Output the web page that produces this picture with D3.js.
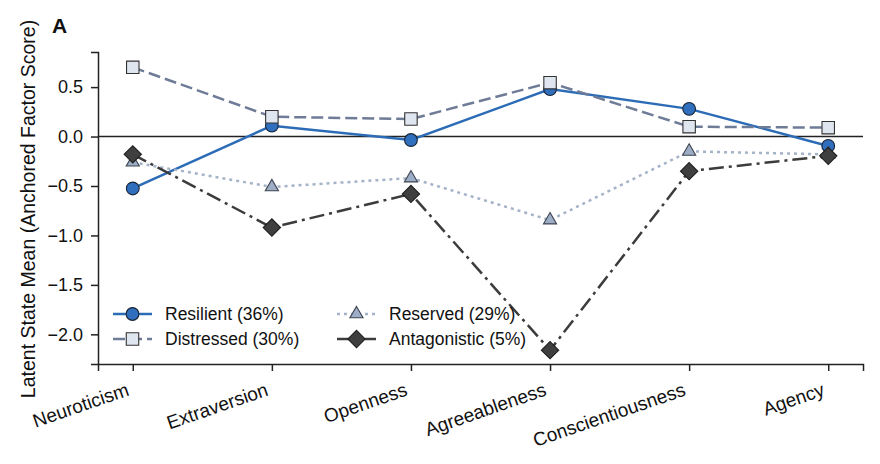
<!DOCTYPE html>
<html>
<head>
<meta charset="utf-8">
<script src="https://cdn.jsdelivr.net/npm/d3@7"></script>
<style>
	body { margin: 0; background: white; }
	svg text { font-family: "Liberation Sans", Arial, sans-serif; }
</style>
</head>
<body>
<div id="plot"></div>
<script>
const traits = ["Neuroticism", "Extraversion", "Openness", "Agreeableness", "Conscientiousness", "Agency"];

const resilient = [-0.525, 0.11, -0.035, 0.48, 0.28, -0.095];
const distressed = [0.70, 0.20, 0.177, 0.545, 0.10, 0.09];
const reserved = [-0.26, -0.51, -0.42, -0.845, -0.15, -0.18];
const antagonistic = [-0.18, -0.92, -0.58, -2.16, -0.35, -0.195];

const seriesNames = ["Resilient (36%)", "Distressed (30%)", "Reserved (29%)", "Antagonistic (5%)"];
const yTicks = [0.5, 0.0, -0.5, -1.0, -1.5, -2.0];

const W = 880, H = 464;
const margin = { top: 52, right: 17, bottom: 100, left: 98 },
	width = W - margin.left - margin.right,
	height = H - margin.top - margin.bottom;

// matplotlib-ish styles: D is a square turned 45 degrees
const styles = [
	{ line: "#2c6cb6", fill: "#2f6fbe", edge: "#1b2333", dash: null, shape: d3.symbolCircle, size: 128, rot: 0 },
	{ line: "#6f7c97", fill: "#dfe6f0", edge: "#333333", dash: "12,5", shape: d3.symbolSquare, size: 155, rot: 0 },
	{ line: "#a5b3c9", fill: "#9dadc6", edge: "#3e4450", dash: "3,4", shape: d3.symbolTriangle, size: 75, rot: 0 },
	{ line: "#3c3c3c", fill: "#3f3f3f", edge: "#1e1e1e", dash: "15,5,3,5", shape: d3.symbolSquare, size: 150, rot: 45 }
];

const series = [resilient, distressed, reserved, antagonistic].map((vals, i) => ({
	name: seriesNames[i],
	values: vals,
	style: styles[i]
}));

const svg = d3.select("#plot")
	.append("svg")
	.attr("width", W)
	.attr("height", H);

const g = svg.append("g")
	.attr("transform", `translate(${margin.left},${margin.top})`);

const x = d3.scaleLinear()
	.domain([-0.25, traits.length - 0.75])
	.range([0, width]);

const y = d3.scaleLinear()
	.domain([-2.3, 0.855])
	.range([height, 0]);

// axes
const xAxis = g.append("g")
	.attr("transform", `translate(0,${height})`)
	.call(d3.axisBottom(x).tickValues(d3.range(traits.length)).tickFormat(i => traits[i]).tickSizeOuter(0).tickSize(7));
xAxis.select(".domain").attr("stroke", "#222").attr("stroke-width", 1.5);
xAxis.selectAll(".tick line").attr("stroke", "#222").attr("stroke-width", 1.5);
xAxis.selectAll("text")
	.attr("font-size", 19)
	.attr("fill", "#111")
	.attr("y", 0)
	.attr("dy", 0)
	.style("text-anchor", "end")
	.attr("transform", "translate(-3,31)rotate(-19)");

const yAxis = g.append("g")
	.call(d3.axisLeft(y).tickValues(yTicks).tickFormat(d => d3.format(".1f")(d).replace("-", "\u2212")).tickSizeOuter(0).tickSize(7).tickPadding(8));
yAxis.select(".domain").attr("stroke", "#222").attr("stroke-width", 1.5);
yAxis.selectAll(".tick line").attr("stroke", "#222").attr("stroke-width", 1.5);
yAxis.selectAll("text").attr("font-size", 18).attr("fill", "#111");

// zero line
g.append("line")
	.attr("x1", 0).attr("x2", width)
	.attr("y1", y(0)).attr("y2", y(0))
	.attr("stroke", "#222")
	.attr("stroke-width", 1.5);

// y label
svg.append("text")
	.attr("transform", `translate(35,${209}) rotate(-90)`)
	.attr("text-anchor", "middle")
	.attr("font-size", 19.5)
	.attr("fill", "#111")
	.text("Latent State Mean (Anchored Factor Score)");

// panel letter
svg.append("text")
	.attr("x", 52).attr("y", 33)
	.attr("font-size", 21)
	.attr("font-weight", "bold")
	.attr("fill", "#111")
	.text("A");

const line = d3.line()
	.x((d, i) => x(i))
	.y(d => y(d));

function marker(sel, st) {
	sel.attr("d", d3.symbol().type(st.shape).size(st.size))
		.attr("fill", st.fill)
		.attr("stroke", st.edge)
		.attr("stroke-width", 1.1);
}

series.forEach(s => {
	g.append("path")
		.datum(s.values)
		.attr("fill", "none")
		.attr("stroke", s.style.line)
		.attr("stroke-width", 2.5)
		.attr("stroke-dasharray", s.style.dash)
		.attr("d", line);

	g.selectAll(null)
		.data(s.values)
		.enter()
		.append("path")
		.attr("transform", (d, i) => `translate(${x(i)},${y(d)}) rotate(${s.style.rot})`)
		.call(marker, s.style);
});

// legend
const legendPos = [
	{ x: 15, y: 262 },
	{ x: 15, y: 287 },
	{ x: 239, y: 262 },
	{ x: 239, y: 287 }
];

series.forEach((s, i) => {
	const lg = g.append("g")
		.attr("transform", `translate(${legendPos[i].x},${legendPos[i].y})`);
	lg.append("line")
		.attr("x1", 0).attr("x2", 39)
		.attr("y1", 0).attr("y2", 0)
		.attr("stroke", s.style.line)
		.attr("stroke-width", 2.5)
		.attr("stroke-dasharray", s.style.dash);
	lg.append("path")
		.attr("transform", `translate(19.5,0) rotate(${s.style.rot})`)
		.call(marker, s.style);
	lg.append("text")
		.attr("x", 52)
		.attr("y", 6)
		.attr("font-size", 17.5)
		.attr("fill", "#111")
		.text(s.name);
});
</script>
</body>
</html>
